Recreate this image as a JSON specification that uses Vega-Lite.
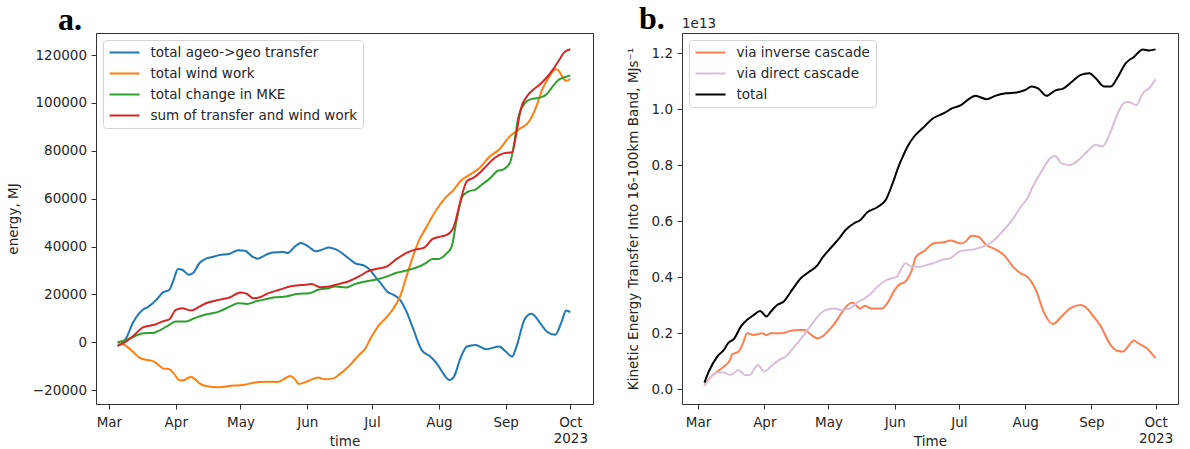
{
  "$schema": "https://vega.github.io/schema/vega-lite/v6.json",
  "padding": {"left": 5, "top": 2, "right": 5, "bottom": 0},
  "spacing": 31,
  "resolve": {"scale": {"color": "independent"}, "legend": {"color": "independent"}},
  "config": {
    "font": "DejaVu Sans",
    "view": {"stroke": "#333333", "strokeWidth": 1},
    "axis": {
      "domain": false,
      "grid": false,
      "labelFont": "DejaVu Sans",
      "labelFontSize": 13.5,
      "labelColor": "#262626",
      "titleFont": "DejaVu Sans",
      "titleFontSize": 13.5,
      "titleFontWeight": "normal",
      "titleColor": "#262626",
      "tickColor": "#333333",
      "tickSize": 5,
      "tickWidth": 1
    },
    "axisX": {"labelPadding": 6, "labelAngle": 0, "minExtent": 27, "maxExtent": 27, "titlePadding": 3, "labelLineHeight": 16, "labelFlush": false, "labelOverlap": false},
    "axisY": {"labelPadding": 4.5, "titlePadding": 10.6},
    "legend": {
      "orient": "top-left",
      "offset": 7,
      "padding": 5.5,
      "rowPadding": 7,
      "clipHeight": 14,
      "symbolType": "stroke",
      "symbolSize": 900,
      "symbolStrokeWidth": 2,
      "labelFont": "DejaVu Sans",
      "labelFontSize": 13.5,
      "labelColor": "#262626",
      "labelOffset": 10,
      "labelLimit": 400,
      "strokeColor": "#d4d4d4",
      "fillColor": "rgba(255,255,255,0.8)",
      "cornerRadius": 3
    },
    "title": {"font": "Liberation Serif", "fontSize": 32, "fontWeight": "bold", "color": "#000000", "anchor": "start", "frame": "group", "baseline": "alphabetic"}
  },
  "datasets": {
    "energy": [
      {"date": "2023-03-05", "series": "total ageo->geo transfer", "value": -1500},
      {"date": "2023-03-09", "series": "total ageo->geo transfer", "value": 1700},
      {"date": "2023-03-12", "series": "total ageo->geo transfer", "value": 7950},
      {"date": "2023-03-17", "series": "total ageo->geo transfer", "value": 13800},
      {"date": "2023-03-19", "series": "total ageo->geo transfer", "value": 14700},
      {"date": "2023-03-23", "series": "total ageo->geo transfer", "value": 17700},
      {"date": "2023-03-26", "series": "total ageo->geo transfer", "value": 20800},
      {"date": "2023-03-29", "series": "total ageo->geo transfer", "value": 21900},
      {"date": "2023-03-31", "series": "total ageo->geo transfer", "value": 26100},
      {"date": "2023-04-02", "series": "total ageo->geo transfer", "value": 30600},
      {"date": "2023-04-04", "series": "total ageo->geo transfer", "value": 30300},
      {"date": "2023-04-07", "series": "total ageo->geo transfer", "value": 28200},
      {"date": "2023-04-09", "series": "total ageo->geo transfer", "value": 28900},
      {"date": "2023-04-12", "series": "total ageo->geo transfer", "value": 33100},
      {"date": "2023-04-15", "series": "total ageo->geo transfer", "value": 34900},
      {"date": "2023-04-18", "series": "total ageo->geo transfer", "value": 35600},
      {"date": "2023-04-21", "series": "total ageo->geo transfer", "value": 36400},
      {"date": "2023-04-26", "series": "total ageo->geo transfer", "value": 37000},
      {"date": "2023-04-30", "series": "total ageo->geo transfer", "value": 38400},
      {"date": "2023-05-03", "series": "total ageo->geo transfer", "value": 38200},
      {"date": "2023-05-07", "series": "total ageo->geo transfer", "value": 35500},
      {"date": "2023-05-09", "series": "total ageo->geo transfer", "value": 34900},
      {"date": "2023-05-13", "series": "total ageo->geo transfer", "value": 36600},
      {"date": "2023-05-16", "series": "total ageo->geo transfer", "value": 37500},
      {"date": "2023-05-21", "series": "total ageo->geo transfer", "value": 37700},
      {"date": "2023-05-23", "series": "total ageo->geo transfer", "value": 37300},
      {"date": "2023-05-26", "series": "total ageo->geo transfer", "value": 39800},
      {"date": "2023-05-29", "series": "total ageo->geo transfer", "value": 41500},
      {"date": "2023-06-01", "series": "total ageo->geo transfer", "value": 40300},
      {"date": "2023-06-05", "series": "total ageo->geo transfer", "value": 38000},
      {"date": "2023-06-08", "series": "total ageo->geo transfer", "value": 38700},
      {"date": "2023-06-11", "series": "total ageo->geo transfer", "value": 39600},
      {"date": "2023-06-14", "series": "total ageo->geo transfer", "value": 38900},
      {"date": "2023-06-19", "series": "total ageo->geo transfer", "value": 35900},
      {"date": "2023-06-23", "series": "total ageo->geo transfer", "value": 33100},
      {"date": "2023-06-28", "series": "total ageo->geo transfer", "value": 31700},
      {"date": "2023-06-30", "series": "total ageo->geo transfer", "value": 30300},
      {"date": "2023-07-03", "series": "total ageo->geo transfer", "value": 26800},
      {"date": "2023-07-05", "series": "total ageo->geo transfer", "value": 24700},
      {"date": "2023-07-08", "series": "total ageo->geo transfer", "value": 21200},
      {"date": "2023-07-11", "series": "total ageo->geo transfer", "value": 19800},
      {"date": "2023-07-14", "series": "total ageo->geo transfer", "value": 17700},
      {"date": "2023-07-17", "series": "total ageo->geo transfer", "value": 12800},
      {"date": "2023-07-20", "series": "total ageo->geo transfer", "value": 5900},
      {"date": "2023-07-24", "series": "total ageo->geo transfer", "value": -3200},
      {"date": "2023-07-28", "series": "total ageo->geo transfer", "value": -6000},
      {"date": "2023-07-31", "series": "total ageo->geo transfer", "value": -8800},
      {"date": "2023-08-03", "series": "total ageo->geo transfer", "value": -13000},
      {"date": "2023-08-06", "series": "total ageo->geo transfer", "value": -15800},
      {"date": "2023-08-08", "series": "total ageo->geo transfer", "value": -14400},
      {"date": "2023-08-11", "series": "total ageo->geo transfer", "value": -6700},
      {"date": "2023-08-14", "series": "total ageo->geo transfer", "value": -1800},
      {"date": "2023-08-18", "series": "total ageo->geo transfer", "value": -1100},
      {"date": "2023-08-23", "series": "total ageo->geo transfer", "value": -2900},
      {"date": "2023-08-29", "series": "total ageo->geo transfer", "value": -1800},
      {"date": "2023-09-01", "series": "total ageo->geo transfer", "value": -3900},
      {"date": "2023-09-04", "series": "total ageo->geo transfer", "value": -6000},
      {"date": "2023-09-06", "series": "total ageo->geo transfer", "value": -1800},
      {"date": "2023-09-10", "series": "total ageo->geo transfer", "value": 10000},
      {"date": "2023-09-13", "series": "total ageo->geo transfer", "value": 11900},
      {"date": "2023-09-17", "series": "total ageo->geo transfer", "value": 8000},
      {"date": "2023-09-20", "series": "total ageo->geo transfer", "value": 4500},
      {"date": "2023-09-24", "series": "total ageo->geo transfer", "value": 3100},
      {"date": "2023-09-27", "series": "total ageo->geo transfer", "value": 8700},
      {"date": "2023-09-29", "series": "total ageo->geo transfer", "value": 13300},
      {"date": "2023-10-01", "series": "total ageo->geo transfer", "value": 12600},

      {"date": "2023-03-05", "series": "total wind work", "value": 0},
      {"date": "2023-03-09", "series": "total wind work", "value": -1500},
      {"date": "2023-03-12", "series": "total wind work", "value": -3900},
      {"date": "2023-03-15", "series": "total wind work", "value": -6300},
      {"date": "2023-03-17", "series": "total wind work", "value": -7100},
      {"date": "2023-03-19", "series": "total wind work", "value": -7400},
      {"date": "2023-03-22", "series": "total wind work", "value": -8100},
      {"date": "2023-03-24", "series": "total wind work", "value": -9500},
      {"date": "2023-03-26", "series": "total wind work", "value": -10900},
      {"date": "2023-03-29", "series": "total wind work", "value": -11300},
      {"date": "2023-03-31", "series": "total wind work", "value": -13000},
      {"date": "2023-04-03", "series": "total wind work", "value": -16000},
      {"date": "2023-04-05", "series": "total wind work", "value": -15800},
      {"date": "2023-04-08", "series": "total wind work", "value": -14400},
      {"date": "2023-04-10", "series": "total wind work", "value": -15500},
      {"date": "2023-04-12", "series": "total wind work", "value": -17200},
      {"date": "2023-04-15", "series": "total wind work", "value": -18300},
      {"date": "2023-04-21", "series": "total wind work", "value": -18800},
      {"date": "2023-04-28", "series": "total wind work", "value": -18100},
      {"date": "2023-05-02", "series": "total wind work", "value": -17900},
      {"date": "2023-05-07", "series": "total wind work", "value": -16900},
      {"date": "2023-05-13", "series": "total wind work", "value": -16500},
      {"date": "2023-05-18", "series": "total wind work", "value": -16600},
      {"date": "2023-05-21", "series": "total wind work", "value": -15500},
      {"date": "2023-05-24", "series": "total wind work", "value": -14100},
      {"date": "2023-05-26", "series": "total wind work", "value": -15100},
      {"date": "2023-05-28", "series": "total wind work", "value": -17400},
      {"date": "2023-06-02", "series": "total wind work", "value": -16000},
      {"date": "2023-06-06", "series": "total wind work", "value": -14700},
      {"date": "2023-06-09", "series": "total wind work", "value": -15500},
      {"date": "2023-06-13", "series": "total wind work", "value": -15100},
      {"date": "2023-06-16", "series": "total wind work", "value": -13300},
      {"date": "2023-06-20", "series": "total wind work", "value": -10200},
      {"date": "2023-06-25", "series": "total wind work", "value": -5300},
      {"date": "2023-06-28", "series": "total wind work", "value": -2500},
      {"date": "2023-06-30", "series": "total wind work", "value": 1000},
      {"date": "2023-07-04", "series": "total wind work", "value": 6800},
      {"date": "2023-07-08", "series": "total wind work", "value": 10700},
      {"date": "2023-07-11", "series": "total wind work", "value": 14200},
      {"date": "2023-07-14", "series": "total wind work", "value": 19100},
      {"date": "2023-07-17", "series": "total wind work", "value": 27500},
      {"date": "2023-07-20", "series": "total wind work", "value": 35900},
      {"date": "2023-07-23", "series": "total wind work", "value": 42900},
      {"date": "2023-07-26", "series": "total wind work", "value": 47700},
      {"date": "2023-07-29", "series": "total wind work", "value": 52600},
      {"date": "2023-08-01", "series": "total wind work", "value": 56800},
      {"date": "2023-08-04", "series": "total wind work", "value": 60300},
      {"date": "2023-08-08", "series": "total wind work", "value": 63800},
      {"date": "2023-08-11", "series": "total wind work", "value": 67300},
      {"date": "2023-08-15", "series": "total wind work", "value": 69800},
      {"date": "2023-08-20", "series": "total wind work", "value": 72900},
      {"date": "2023-08-24", "series": "total wind work", "value": 77100},
      {"date": "2023-08-29", "series": "total wind work", "value": 80500},
      {"date": "2023-09-03", "series": "total wind work", "value": 86100},
      {"date": "2023-09-07", "series": "total wind work", "value": 88900},
      {"date": "2023-09-12", "series": "total wind work", "value": 92400},
      {"date": "2023-09-15", "series": "total wind work", "value": 98000},
      {"date": "2023-09-18", "series": "total wind work", "value": 105700},
      {"date": "2023-09-21", "series": "total wind work", "value": 110600},
      {"date": "2023-09-24", "series": "total wind work", "value": 114000},
      {"date": "2023-09-25", "series": "total wind work", "value": 114000},
      {"date": "2023-09-27", "series": "total wind work", "value": 111300},
      {"date": "2023-09-29", "series": "total wind work", "value": 109200},
      {"date": "2023-10-01", "series": "total wind work", "value": 109900},

      {"date": "2023-03-05", "series": "total change in MKE", "value": 0},
      {"date": "2023-03-09", "series": "total change in MKE", "value": 1000},
      {"date": "2023-03-12", "series": "total change in MKE", "value": 2100},
      {"date": "2023-03-17", "series": "total change in MKE", "value": 3800},
      {"date": "2023-03-22", "series": "total change in MKE", "value": 4000},
      {"date": "2023-03-25", "series": "total change in MKE", "value": 5200},
      {"date": "2023-03-29", "series": "total change in MKE", "value": 7300},
      {"date": "2023-04-01", "series": "total change in MKE", "value": 8700},
      {"date": "2023-04-06", "series": "total change in MKE", "value": 8700},
      {"date": "2023-04-09", "series": "total change in MKE", "value": 9800},
      {"date": "2023-04-14", "series": "total change in MKE", "value": 11400},
      {"date": "2023-04-18", "series": "total change in MKE", "value": 12100},
      {"date": "2023-04-21", "series": "total change in MKE", "value": 12800},
      {"date": "2023-04-26", "series": "total change in MKE", "value": 14900},
      {"date": "2023-04-30", "series": "total change in MKE", "value": 16300},
      {"date": "2023-05-04", "series": "total change in MKE", "value": 16000},
      {"date": "2023-05-08", "series": "total change in MKE", "value": 17000},
      {"date": "2023-05-13", "series": "total change in MKE", "value": 18100},
      {"date": "2023-05-17", "series": "total change in MKE", "value": 18800},
      {"date": "2023-05-22", "series": "total change in MKE", "value": 19100},
      {"date": "2023-05-27", "series": "total change in MKE", "value": 20200},
      {"date": "2023-06-02", "series": "total change in MKE", "value": 20500},
      {"date": "2023-06-06", "series": "total change in MKE", "value": 21900},
      {"date": "2023-06-11", "series": "total change in MKE", "value": 22600},
      {"date": "2023-06-14", "series": "total change in MKE", "value": 23300},
      {"date": "2023-06-19", "series": "total change in MKE", "value": 22900},
      {"date": "2023-06-23", "series": "total change in MKE", "value": 24300},
      {"date": "2023-06-28", "series": "total change in MKE", "value": 25400},
      {"date": "2023-07-04", "series": "total change in MKE", "value": 26400},
      {"date": "2023-07-08", "series": "total change in MKE", "value": 27500},
      {"date": "2023-07-12", "series": "total change in MKE", "value": 28900},
      {"date": "2023-07-17", "series": "total change in MKE", "value": 30000},
      {"date": "2023-07-21", "series": "total change in MKE", "value": 31000},
      {"date": "2023-07-26", "series": "total change in MKE", "value": 33100},
      {"date": "2023-07-29", "series": "total change in MKE", "value": 34800},
      {"date": "2023-08-01", "series": "total change in MKE", "value": 34800},
      {"date": "2023-08-04", "series": "total change in MKE", "value": 36600},
      {"date": "2023-08-07", "series": "total change in MKE", "value": 40100},
      {"date": "2023-08-09", "series": "total change in MKE", "value": 49800},
      {"date": "2023-08-12", "series": "total change in MKE", "value": 61000},
      {"date": "2023-08-15", "series": "total change in MKE", "value": 63100},
      {"date": "2023-08-18", "series": "total change in MKE", "value": 63800},
      {"date": "2023-08-21", "series": "total change in MKE", "value": 65900},
      {"date": "2023-08-25", "series": "total change in MKE", "value": 68700},
      {"date": "2023-08-28", "series": "total change in MKE", "value": 71500},
      {"date": "2023-08-31", "series": "total change in MKE", "value": 72200},
      {"date": "2023-09-03", "series": "total change in MKE", "value": 75000},
      {"date": "2023-09-05", "series": "total change in MKE", "value": 83300},
      {"date": "2023-09-07", "series": "total change in MKE", "value": 94500},
      {"date": "2023-09-11", "series": "total change in MKE", "value": 100800},
      {"date": "2023-09-14", "series": "total change in MKE", "value": 101800},
      {"date": "2023-09-17", "series": "total change in MKE", "value": 102200},
      {"date": "2023-09-20", "series": "total change in MKE", "value": 103600},
      {"date": "2023-09-23", "series": "total change in MKE", "value": 107100},
      {"date": "2023-09-26", "series": "total change in MKE", "value": 109900},
      {"date": "2023-09-28", "series": "total change in MKE", "value": 110600},
      {"date": "2023-10-01", "series": "total change in MKE", "value": 111500},

      {"date": "2023-03-05", "series": "sum of transfer and wind work", "value": -1500},
      {"date": "2023-03-09", "series": "sum of transfer and wind work", "value": 300},
      {"date": "2023-03-12", "series": "sum of transfer and wind work", "value": 2400},
      {"date": "2023-03-17", "series": "sum of transfer and wind work", "value": 6300},
      {"date": "2023-03-22", "series": "sum of transfer and wind work", "value": 7300},
      {"date": "2023-03-26", "series": "sum of transfer and wind work", "value": 8700},
      {"date": "2023-03-29", "series": "sum of transfer and wind work", "value": 9600},
      {"date": "2023-04-01", "series": "sum of transfer and wind work", "value": 13500},
      {"date": "2023-04-04", "series": "sum of transfer and wind work", "value": 14200},
      {"date": "2023-04-08", "series": "sum of transfer and wind work", "value": 13300},
      {"date": "2023-04-12", "series": "sum of transfer and wind work", "value": 14900},
      {"date": "2023-04-15", "series": "sum of transfer and wind work", "value": 16300},
      {"date": "2023-04-21", "series": "sum of transfer and wind work", "value": 17700},
      {"date": "2023-04-26", "series": "sum of transfer and wind work", "value": 18700},
      {"date": "2023-05-01", "series": "sum of transfer and wind work", "value": 20800},
      {"date": "2023-05-04", "series": "sum of transfer and wind work", "value": 20200},
      {"date": "2023-05-07", "series": "sum of transfer and wind work", "value": 18400},
      {"date": "2023-05-10", "series": "sum of transfer and wind work", "value": 18800},
      {"date": "2023-05-14", "series": "sum of transfer and wind work", "value": 20500},
      {"date": "2023-05-19", "series": "sum of transfer and wind work", "value": 21900},
      {"date": "2023-05-24", "series": "sum of transfer and wind work", "value": 23300},
      {"date": "2023-05-27", "series": "sum of transfer and wind work", "value": 23700},
      {"date": "2023-05-31", "series": "sum of transfer and wind work", "value": 24000},
      {"date": "2023-06-03", "series": "sum of transfer and wind work", "value": 24300},
      {"date": "2023-06-07", "series": "sum of transfer and wind work", "value": 23000},
      {"date": "2023-06-11", "series": "sum of transfer and wind work", "value": 23300},
      {"date": "2023-06-16", "series": "sum of transfer and wind work", "value": 24400},
      {"date": "2023-06-20", "series": "sum of transfer and wind work", "value": 25400},
      {"date": "2023-06-25", "series": "sum of transfer and wind work", "value": 27500},
      {"date": "2023-06-29", "series": "sum of transfer and wind work", "value": 29600},
      {"date": "2023-07-04", "series": "sum of transfer and wind work", "value": 30800},
      {"date": "2023-07-08", "series": "sum of transfer and wind work", "value": 31700},
      {"date": "2023-07-12", "series": "sum of transfer and wind work", "value": 34500},
      {"date": "2023-07-17", "series": "sum of transfer and wind work", "value": 37300},
      {"date": "2023-07-21", "series": "sum of transfer and wind work", "value": 38700},
      {"date": "2023-07-25", "series": "sum of transfer and wind work", "value": 39400},
      {"date": "2023-07-29", "series": "sum of transfer and wind work", "value": 43100},
      {"date": "2023-08-01", "series": "sum of transfer and wind work", "value": 44000},
      {"date": "2023-08-05", "series": "sum of transfer and wind work", "value": 45000},
      {"date": "2023-08-08", "series": "sum of transfer and wind work", "value": 48400},
      {"date": "2023-08-11", "series": "sum of transfer and wind work", "value": 58900},
      {"date": "2023-08-14", "series": "sum of transfer and wind work", "value": 67300},
      {"date": "2023-08-17", "series": "sum of transfer and wind work", "value": 68700},
      {"date": "2023-08-20", "series": "sum of transfer and wind work", "value": 70800},
      {"date": "2023-08-23", "series": "sum of transfer and wind work", "value": 73600},
      {"date": "2023-08-27", "series": "sum of transfer and wind work", "value": 77100},
      {"date": "2023-08-31", "series": "sum of transfer and wind work", "value": 78900},
      {"date": "2023-09-04", "series": "sum of transfer and wind work", "value": 79400},
      {"date": "2023-09-06", "series": "sum of transfer and wind work", "value": 87500},
      {"date": "2023-09-08", "series": "sum of transfer and wind work", "value": 97300},
      {"date": "2023-09-11", "series": "sum of transfer and wind work", "value": 102900},
      {"date": "2023-09-14", "series": "sum of transfer and wind work", "value": 105700},
      {"date": "2023-09-17", "series": "sum of transfer and wind work", "value": 107800},
      {"date": "2023-09-20", "series": "sum of transfer and wind work", "value": 110600},
      {"date": "2023-09-23", "series": "sum of transfer and wind work", "value": 114000},
      {"date": "2023-09-26", "series": "sum of transfer and wind work", "value": 118200},
      {"date": "2023-09-28", "series": "sum of transfer and wind work", "value": 121000},
      {"date": "2023-10-01", "series": "sum of transfer and wind work", "value": 122400}
    ],
    "cascade": [
      {"date": "2023-03-04", "series": "via inverse cascade", "value": 1.5e11},
      {"date": "2023-03-07", "series": "via inverse cascade", "value": 4.5e11},
      {"date": "2023-03-10", "series": "via inverse cascade", "value": 6.3e11},
      {"date": "2023-03-13", "series": "via inverse cascade", "value": 8.1e11},
      {"date": "2023-03-16", "series": "via inverse cascade", "value": 1.05e12},
      {"date": "2023-03-17", "series": "via inverse cascade", "value": 1.25e12},
      {"date": "2023-03-20", "series": "via inverse cascade", "value": 1.35e12},
      {"date": "2023-03-22", "series": "via inverse cascade", "value": 1.64e12},
      {"date": "2023-03-24", "series": "via inverse cascade", "value": 2.0e12},
      {"date": "2023-03-27", "series": "via inverse cascade", "value": 1.94e12},
      {"date": "2023-03-31", "series": "via inverse cascade", "value": 2.0e12},
      {"date": "2023-04-02", "series": "via inverse cascade", "value": 1.94e12},
      {"date": "2023-04-04", "series": "via inverse cascade", "value": 2.0e12},
      {"date": "2023-04-09", "series": "via inverse cascade", "value": 2.0e12},
      {"date": "2023-04-13", "series": "via inverse cascade", "value": 2.08e12},
      {"date": "2023-04-17", "series": "via inverse cascade", "value": 2.12e12},
      {"date": "2023-04-20", "series": "via inverse cascade", "value": 2.12e12},
      {"date": "2023-04-22", "series": "via inverse cascade", "value": 2.0e12},
      {"date": "2023-04-26", "series": "via inverse cascade", "value": 1.82e12},
      {"date": "2023-04-28", "series": "via inverse cascade", "value": 1.88e12},
      {"date": "2023-05-02", "series": "via inverse cascade", "value": 2.18e12},
      {"date": "2023-05-04", "series": "via inverse cascade", "value": 2.36e12},
      {"date": "2023-05-07", "series": "via inverse cascade", "value": 2.71e12},
      {"date": "2023-05-10", "series": "via inverse cascade", "value": 3.01e12},
      {"date": "2023-05-12", "series": "via inverse cascade", "value": 3.1e12},
      {"date": "2023-05-16", "series": "via inverse cascade", "value": 2.89e12},
      {"date": "2023-05-18", "series": "via inverse cascade", "value": 2.98e12},
      {"date": "2023-05-21", "series": "via inverse cascade", "value": 2.89e12},
      {"date": "2023-05-26", "series": "via inverse cascade", "value": 2.89e12},
      {"date": "2023-05-29", "series": "via inverse cascade", "value": 3.13e12},
      {"date": "2023-06-01", "series": "via inverse cascade", "value": 3.55e12},
      {"date": "2023-06-03", "series": "via inverse cascade", "value": 3.73e12},
      {"date": "2023-06-06", "series": "via inverse cascade", "value": 3.85e12},
      {"date": "2023-06-09", "series": "via inverse cascade", "value": 4.26e12},
      {"date": "2023-06-11", "series": "via inverse cascade", "value": 4.74e12},
      {"date": "2023-06-15", "series": "via inverse cascade", "value": 4.95e12},
      {"date": "2023-06-19", "series": "via inverse cascade", "value": 5.21e12},
      {"date": "2023-06-22", "series": "via inverse cascade", "value": 5.24e12},
      {"date": "2023-06-24", "series": "via inverse cascade", "value": 5.25e12},
      {"date": "2023-06-27", "series": "via inverse cascade", "value": 5.31e12},
      {"date": "2023-07-02", "series": "via inverse cascade", "value": 5.21e12},
      {"date": "2023-07-04", "series": "via inverse cascade", "value": 5.27e12},
      {"date": "2023-07-07", "series": "via inverse cascade", "value": 5.48e12},
      {"date": "2023-07-10", "series": "via inverse cascade", "value": 5.45e12},
      {"date": "2023-07-14", "series": "via inverse cascade", "value": 5.15e12},
      {"date": "2023-07-18", "series": "via inverse cascade", "value": 5.0e12},
      {"date": "2023-07-22", "series": "via inverse cascade", "value": 4.8e12},
      {"date": "2023-07-27", "series": "via inverse cascade", "value": 4.32e12},
      {"date": "2023-07-30", "series": "via inverse cascade", "value": 4.14e12},
      {"date": "2023-08-02", "series": "via inverse cascade", "value": 4.02e12},
      {"date": "2023-08-06", "series": "via inverse cascade", "value": 3.55e12},
      {"date": "2023-08-10", "series": "via inverse cascade", "value": 2.71e12},
      {"date": "2023-08-14", "series": "via inverse cascade", "value": 2.33e12},
      {"date": "2023-08-18", "series": "via inverse cascade", "value": 2.6e12},
      {"date": "2023-08-22", "series": "via inverse cascade", "value": 2.89e12},
      {"date": "2023-08-27", "series": "via inverse cascade", "value": 3.01e12},
      {"date": "2023-08-29", "series": "via inverse cascade", "value": 2.95e12},
      {"date": "2023-09-02", "series": "via inverse cascade", "value": 2.6e12},
      {"date": "2023-09-05", "series": "via inverse cascade", "value": 2.3e12},
      {"date": "2023-09-10", "series": "via inverse cascade", "value": 1.58e12},
      {"date": "2023-09-13", "series": "via inverse cascade", "value": 1.38e12},
      {"date": "2023-09-16", "series": "via inverse cascade", "value": 1.35e12},
      {"date": "2023-09-18", "series": "via inverse cascade", "value": 1.52e12},
      {"date": "2023-09-21", "series": "via inverse cascade", "value": 1.74e12},
      {"date": "2023-09-23", "series": "via inverse cascade", "value": 1.64e12},
      {"date": "2023-09-27", "series": "via inverse cascade", "value": 1.46e12},
      {"date": "2023-10-01", "series": "via inverse cascade", "value": 1.11e12},

      {"date": "2023-03-04", "series": "via direct cascade", "value": 1.3e11},
      {"date": "2023-03-07", "series": "via direct cascade", "value": 4.5e11},
      {"date": "2023-03-10", "series": "via direct cascade", "value": 6.0e11},
      {"date": "2023-03-13", "series": "via direct cascade", "value": 6.0e11},
      {"date": "2023-03-16", "series": "via direct cascade", "value": 5.1e11},
      {"date": "2023-03-20", "series": "via direct cascade", "value": 6.9e11},
      {"date": "2023-03-23", "series": "via direct cascade", "value": 5.1e11},
      {"date": "2023-03-25", "series": "via direct cascade", "value": 5.1e11},
      {"date": "2023-03-29", "series": "via direct cascade", "value": 8.7e11},
      {"date": "2023-04-01", "series": "via direct cascade", "value": 6.3e11},
      {"date": "2023-04-04", "series": "via direct cascade", "value": 8.1e11},
      {"date": "2023-04-08", "series": "via direct cascade", "value": 1.05e12},
      {"date": "2023-04-11", "series": "via direct cascade", "value": 1.17e12},
      {"date": "2023-04-15", "series": "via direct cascade", "value": 1.52e12},
      {"date": "2023-04-19", "series": "via direct cascade", "value": 1.88e12},
      {"date": "2023-04-23", "series": "via direct cascade", "value": 2.3e12},
      {"date": "2023-04-26", "series": "via direct cascade", "value": 2.6e12},
      {"date": "2023-04-29", "series": "via direct cascade", "value": 2.81e12},
      {"date": "2023-05-04", "series": "via direct cascade", "value": 2.89e12},
      {"date": "2023-05-07", "series": "via direct cascade", "value": 2.83e12},
      {"date": "2023-05-11", "series": "via direct cascade", "value": 2.89e12},
      {"date": "2023-05-15", "series": "via direct cascade", "value": 3.13e12},
      {"date": "2023-05-18", "series": "via direct cascade", "value": 3.25e12},
      {"date": "2023-05-21", "series": "via direct cascade", "value": 3.43e12},
      {"date": "2023-05-24", "series": "via direct cascade", "value": 3.67e12},
      {"date": "2023-05-27", "series": "via direct cascade", "value": 3.85e12},
      {"date": "2023-05-29", "series": "via direct cascade", "value": 3.93e12},
      {"date": "2023-06-02", "series": "via direct cascade", "value": 4.02e12},
      {"date": "2023-06-04", "series": "via direct cascade", "value": 4.29e12},
      {"date": "2023-06-06", "series": "via direct cascade", "value": 4.5e12},
      {"date": "2023-06-09", "series": "via direct cascade", "value": 4.38e12},
      {"date": "2023-06-13", "series": "via direct cascade", "value": 4.38e12},
      {"date": "2023-06-16", "series": "via direct cascade", "value": 4.44e12},
      {"date": "2023-06-19", "series": "via direct cascade", "value": 4.5e12},
      {"date": "2023-06-23", "series": "via direct cascade", "value": 4.62e12},
      {"date": "2023-06-27", "series": "via direct cascade", "value": 4.68e12},
      {"date": "2023-07-02", "series": "via direct cascade", "value": 4.95e12},
      {"date": "2023-07-07", "series": "via direct cascade", "value": 4.98e12},
      {"date": "2023-07-10", "series": "via direct cascade", "value": 5.04e12},
      {"date": "2023-07-14", "series": "via direct cascade", "value": 5.15e12},
      {"date": "2023-07-18", "series": "via direct cascade", "value": 5.36e12},
      {"date": "2023-07-22", "series": "via direct cascade", "value": 5.69e12},
      {"date": "2023-07-26", "series": "via direct cascade", "value": 6.05e12},
      {"date": "2023-07-30", "series": "via direct cascade", "value": 6.52e12},
      {"date": "2023-08-02", "series": "via direct cascade", "value": 6.82e12},
      {"date": "2023-08-05", "series": "via direct cascade", "value": 7.3e12},
      {"date": "2023-08-09", "series": "via direct cascade", "value": 7.83e12},
      {"date": "2023-08-12", "series": "via direct cascade", "value": 8.19e12},
      {"date": "2023-08-15", "series": "via direct cascade", "value": 8.33e12},
      {"date": "2023-08-18", "series": "via direct cascade", "value": 8.07e12},
      {"date": "2023-08-22", "series": "via direct cascade", "value": 8.01e12},
      {"date": "2023-08-26", "series": "via direct cascade", "value": 8.19e12},
      {"date": "2023-08-30", "series": "via direct cascade", "value": 8.49e12},
      {"date": "2023-09-03", "series": "via direct cascade", "value": 8.73e12},
      {"date": "2023-09-06", "series": "via direct cascade", "value": 8.67e12},
      {"date": "2023-09-10", "series": "via direct cascade", "value": 9.2e12},
      {"date": "2023-09-13", "series": "via direct cascade", "value": 9.8e12},
      {"date": "2023-09-16", "series": "via direct cascade", "value": 1.021e13},
      {"date": "2023-09-18", "series": "via direct cascade", "value": 1.027e13},
      {"date": "2023-09-22", "series": "via direct cascade", "value": 1.015e13},
      {"date": "2023-09-25", "series": "via direct cascade", "value": 1.057e13},
      {"date": "2023-09-28", "series": "via direct cascade", "value": 1.075e13},
      {"date": "2023-10-01", "series": "via direct cascade", "value": 1.107e13},

      {"date": "2023-03-04", "series": "total", "value": 2.4e11},
      {"date": "2023-03-06", "series": "total", "value": 6.3e11},
      {"date": "2023-03-10", "series": "total", "value": 1.17e12},
      {"date": "2023-03-13", "series": "total", "value": 1.4e12},
      {"date": "2023-03-15", "series": "total", "value": 1.64e12},
      {"date": "2023-03-18", "series": "total", "value": 1.82e12},
      {"date": "2023-03-21", "series": "total", "value": 2.24e12},
      {"date": "2023-03-24", "series": "total", "value": 2.48e12},
      {"date": "2023-03-27", "series": "total", "value": 2.65e12},
      {"date": "2023-03-30", "series": "total", "value": 2.8e12},
      {"date": "2023-04-02", "series": "total", "value": 2.6e12},
      {"date": "2023-04-04", "series": "total", "value": 2.77e12},
      {"date": "2023-04-07", "series": "total", "value": 3.01e12},
      {"date": "2023-04-10", "series": "total", "value": 3.13e12},
      {"date": "2023-04-14", "series": "total", "value": 3.55e12},
      {"date": "2023-04-18", "series": "total", "value": 3.96e12},
      {"date": "2023-04-22", "series": "total", "value": 4.2e12},
      {"date": "2023-04-26", "series": "total", "value": 4.44e12},
      {"date": "2023-04-28", "series": "total", "value": 4.68e12},
      {"date": "2023-05-02", "series": "total", "value": 5.04e12},
      {"date": "2023-05-06", "series": "total", "value": 5.39e12},
      {"date": "2023-05-09", "series": "total", "value": 5.69e12},
      {"date": "2023-05-13", "series": "total", "value": 5.93e12},
      {"date": "2023-05-16", "series": "total", "value": 6.05e12},
      {"date": "2023-05-19", "series": "total", "value": 6.31e12},
      {"date": "2023-05-24", "series": "total", "value": 6.51e12},
      {"date": "2023-05-28", "series": "total", "value": 6.79e12},
      {"date": "2023-05-31", "series": "total", "value": 7.35e12},
      {"date": "2023-06-03", "series": "total", "value": 8.0e12},
      {"date": "2023-06-05", "series": "total", "value": 8.35e12},
      {"date": "2023-06-07", "series": "total", "value": 8.67e12},
      {"date": "2023-06-10", "series": "total", "value": 9.02e12},
      {"date": "2023-06-14", "series": "total", "value": 9.32e12},
      {"date": "2023-06-19", "series": "total", "value": 9.68e12},
      {"date": "2023-06-24", "series": "total", "value": 9.86e12},
      {"date": "2023-06-28", "series": "total", "value": 1.004e13},
      {"date": "2023-07-02", "series": "total", "value": 1.015e13},
      {"date": "2023-07-05", "series": "total", "value": 1.033e13},
      {"date": "2023-07-09", "series": "total", "value": 1.048e13},
      {"date": "2023-07-11", "series": "total", "value": 1.043e13},
      {"date": "2023-07-14", "series": "total", "value": 1.036e13},
      {"date": "2023-07-18", "series": "total", "value": 1.048e13},
      {"date": "2023-07-23", "series": "total", "value": 1.057e13},
      {"date": "2023-07-28", "series": "total", "value": 1.06e13},
      {"date": "2023-08-01", "series": "total", "value": 1.069e13},
      {"date": "2023-08-04", "series": "total", "value": 1.081e13},
      {"date": "2023-08-07", "series": "total", "value": 1.075e13},
      {"date": "2023-08-11", "series": "total", "value": 1.048e13},
      {"date": "2023-08-15", "series": "total", "value": 1.067e13},
      {"date": "2023-08-19", "series": "total", "value": 1.075e13},
      {"date": "2023-08-23", "series": "total", "value": 1.099e13},
      {"date": "2023-08-27", "series": "total", "value": 1.123e13},
      {"date": "2023-08-31", "series": "total", "value": 1.129e13},
      {"date": "2023-09-03", "series": "total", "value": 1.111e13},
      {"date": "2023-09-07", "series": "total", "value": 1.081e13},
      {"date": "2023-09-10", "series": "total", "value": 1.081e13},
      {"date": "2023-09-13", "series": "total", "value": 1.111e13},
      {"date": "2023-09-17", "series": "total", "value": 1.164e13},
      {"date": "2023-09-21", "series": "total", "value": 1.188e13},
      {"date": "2023-09-25", "series": "total", "value": 1.214e13},
      {"date": "2023-09-28", "series": "total", "value": 1.21e13},
      {"date": "2023-10-01", "series": "total", "value": 1.214e13}
    ]
  },
  "hconcat": [
    {
      "width": 497,
      "height": 371,
      "title": {"text": "a.", "dx": -38, "offset": -3.7},
      "data": {"name": "energy"},
      "mark": {"type": "line", "strokeWidth": 2, "interpolate": "monotone"},
      "encoding": {
        "x": {
          "field": "date",
          "type": "temporal",
          "scale": {"type": "utc", "domain": [{"year": 2023, "month": "feb", "date": 23, "utc": true}, {"year": 2023, "month": "oct", "date": 11, "hours": 12, "utc": true}]},
          "axis": {
            "title": "time",
            "values": [
              {"year": 2023, "month": "mar", "date": 1, "utc": true},
              {"year": 2023, "month": "apr", "date": 1, "utc": true},
              {"year": 2023, "month": "may", "date": 1, "utc": true},
              {"year": 2023, "month": "jun", "date": 1, "utc": true},
              {"year": 2023, "month": "jul", "date": 1, "utc": true},
              {"year": 2023, "month": "aug", "date": 1, "utc": true},
              {"year": 2023, "month": "sep", "date": 1, "utc": true},
              {"year": 2023, "month": "oct", "date": 1, "utc": true}
            ],
            "labelExpr": "utcmonth(datum.value) == 9 ? [utcFormat(datum.value, '%b'), utcFormat(datum.value, '%Y')] : utcFormat(datum.value, '%b')"
          }
        },
        "y": {
          "field": "value",
          "type": "quantitative",
          "scale": {"domain": [-25800, 129200], "nice": false, "zero": false},
          "axis": {
            "title": "energy, MJ",
            "values": [-20000, 0, 20000, 40000, 60000, 80000, 100000, 120000],
            "format": "d",
            "minExtent": 65,
            "maxExtent": 65
          }
        },
        "color": {
          "field": "series",
          "type": "nominal",
          "sort": null,
          "scale": {
            "domain": ["total ageo->geo transfer", "total wind work", "total change in MKE", "sum of transfer and wind work"],
            "range": ["#1f77b4", "#ff7f0e", "#2ca02c", "#d62728"]
          },
          "legend": {"title": null}
        }
      }
    },
    {
      "width": 496,
      "height": 371,
      "title": {"text": "b.", "dx": -43, "offset": -19.4},
      "layer": [
        {
          "data": {"name": "cascade"},
          "mark": {"type": "line", "strokeWidth": 2, "interpolate": "monotone"},
          "encoding": {
            "x": {
              "field": "date",
              "type": "temporal",
              "scale": {"type": "utc", "domain": [{"year": 2023, "month": "feb", "date": 21, "hours": 12, "utc": true}, {"year": 2023, "month": "oct", "date": 11, "hours": 12, "utc": true}]},
              "axis": {
                "title": "Time",
                "values": [
                  {"year": 2023, "month": "mar", "date": 1, "utc": true},
                  {"year": 2023, "month": "apr", "date": 1, "utc": true},
                  {"year": 2023, "month": "may", "date": 1, "utc": true},
                  {"year": 2023, "month": "jun", "date": 1, "utc": true},
                  {"year": 2023, "month": "jul", "date": 1, "utc": true},
                  {"year": 2023, "month": "aug", "date": 1, "utc": true},
                  {"year": 2023, "month": "sep", "date": 1, "utc": true},
                  {"year": 2023, "month": "oct", "date": 1, "utc": true}
                ],
                "labelExpr": "utcmonth(datum.value) == 9 ? [utcFormat(datum.value, '%b'), utcFormat(datum.value, '%Y')] : utcFormat(datum.value, '%b')"
              }
            },
            "y": {
              "field": "value",
              "type": "quantitative",
              "scale": {"domain": [-5.25e11, 1.2725e13], "nice": false, "zero": false},
              "axis": {
                "title": "Kinetic Energy Transfer Into 16-100km Band, MJs⁻¹",
                "values": [0, 2e12, 4e12, 6e12, 8e12, 1e13, 1.2e13],
                "labelExpr": "format(datum.value / 1e13, '.1f')",
                "minExtent": 31,
                "maxExtent": 31
              }
            },
            "color": {
              "field": "series",
              "type": "nominal",
              "sort": null,
              "scale": {
                "domain": ["via inverse cascade", "via direct cascade", "total"],
                "range": ["#ff7f50", "#d8bfd8", "#000000"]
              },
              "legend": {"title": null}
            }
          }
        },
        {
          "data": {"values": [{"label": "1e13"}]},
          "mark": {"type": "text", "align": "left", "baseline": "alphabetic", "dy": -5, "fontSize": 13.5, "font": "DejaVu Sans", "color": "#262626"},
          "encoding": {
            "x": {"datum": {"year": 2023, "month": "feb", "date": 21, "hours": 12, "utc": true}, "type": "temporal"},
            "y": {"datum": 1.2725e13, "type": "quantitative"},
            "text": {"field": "label", "type": "nominal"}
          }
        }
      ]
    }
  ]
}
